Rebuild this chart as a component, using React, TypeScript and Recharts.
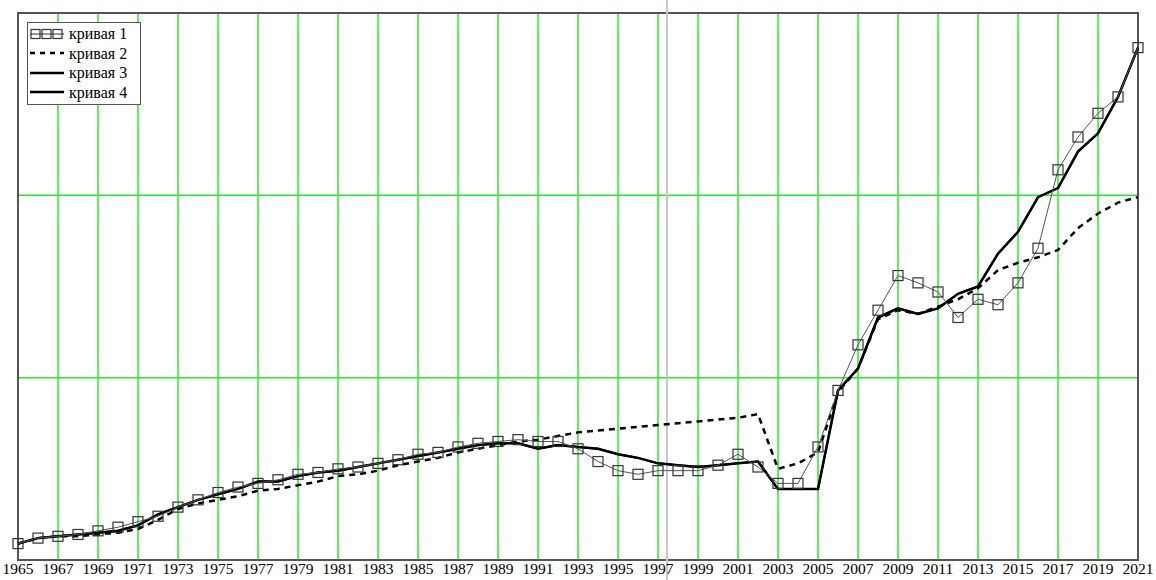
import React from "react";
import { LineChart, Line, XAxis, YAxis, CartesianGrid, ReferenceLine, ReferenceArea } from "recharts";

const years = [
  1965, 1966, 1967, 1968, 1969, 1970, 1971, 1972, 1973, 1974, 1975, 1976, 1977, 1978, 1979,
  1980, 1981, 1982, 1983, 1984, 1985, 1986, 1987, 1988, 1989, 1990, 1991, 1992, 1993, 1994,
  1995, 1996, 1997, 1998, 1999, 2000, 2001, 2002, 2003, 2004, 2005, 2006, 2007, 2008, 2009,
  2010, 2011, 2012, 2013, 2014, 2015, 2016, 2017, 2018, 2019, 2020, 2021,
];

const curve1 = [
  0.09, 0.12, 0.13, 0.14, 0.16, 0.18, 0.21, 0.24, 0.29, 0.33, 0.37, 0.4, 0.42, 0.44, 0.47,
  0.48, 0.5, 0.51, 0.53, 0.55, 0.58, 0.59, 0.62, 0.64, 0.65, 0.66, 0.65, 0.65, 0.61, 0.54,
  0.49, 0.47, 0.49, 0.49, 0.49, 0.52, 0.58, 0.51, 0.42, 0.42, 0.62, 0.93, 1.18, 1.37, 1.56,
  1.52, 1.47, 1.33, 1.43, 1.4, 1.52, 1.71, 2.14, 2.32, 2.45, 2.54, 2.81,
];

const curve2 = [
  0.09, 0.12, 0.13, 0.13, 0.14, 0.15, 0.17, 0.22, 0.28, 0.31, 0.33, 0.35, 0.38, 0.39, 0.41,
  0.43, 0.46, 0.47, 0.49, 0.52, 0.54, 0.56, 0.59, 0.61, 0.63, 0.65, 0.66, 0.68, 0.7, 0.71,
  0.72, 0.73, 0.74, 0.75, 0.76, 0.77, 0.78, 0.8, 0.5, 0.53, 0.59, 0.92, 1.05, 1.32, 1.37,
  1.35, 1.39, 1.43, 1.49, 1.59, 1.63, 1.66, 1.7, 1.82, 1.9, 1.96, 1.99,
];

const curve3 = [
  0.09, 0.12, 0.13, 0.14, 0.15, 0.16, 0.19, 0.25, 0.29, 0.33, 0.36, 0.39, 0.43, 0.43, 0.46,
  0.48, 0.49, 0.51, 0.53, 0.55, 0.57, 0.59, 0.61, 0.63, 0.64, 0.64, 0.61, 0.63, 0.62, 0.61,
  0.58, 0.56, 0.53, 0.52, 0.51, 0.52, 0.53, 0.54, 0.39, 0.39, 0.39, 0.93, 1.05, 1.33, 1.38,
  1.35, 1.38, 1.46, 1.5, 1.68, 1.8, 1.99, 2.04, 2.24, 2.34, 2.54, 2.81,
];

const curve4 = [
  0.09, 0.12, 0.13, 0.14, 0.15, 0.16, 0.19, 0.25, 0.29, 0.33, 0.36, 0.39, 0.43, 0.43, 0.46,
  0.48, 0.49, 0.51, 0.53, 0.55, 0.57, 0.59, 0.61, 0.63, 0.64, 0.64, 0.61, 0.63, 0.62, 0.61,
  0.58, 0.56, 0.53, 0.52, 0.51, 0.52, 0.53, 0.54, 0.39, 0.39, 0.39, 0.93, 1.05, 1.33, 1.38,
  1.35, 1.38, 1.46, 1.5, 1.68, 1.8, 1.99, 2.04, 2.24, 2.34, 2.54, 2.81,
];

const xTicks = [
  1965, 1967, 1969, 1971, 1973, 1975, 1977, 1979, 1981, 1983, 1985, 1987, 1989, 1991, 1993,
  1995, 1997, 1999, 2001, 2003, 2005, 2007, 2009, 2011, 2013, 2015, 2017, 2019, 2021,
];
const yTicks = [0, 1, 2, 3];
const legendNames = ["кривая 1", "кривая 2", "кривая 3", "кривая 4"];
const cursorYear = 1997.45;

const data = years.map((year, i) => ({
  year,
  c1: curve1[i],
  c2: curve2[i],
  c3: curve3[i],
  c4: curve4[i],
}));

const serif = "'Liberation Serif', 'Times New Roman', 'DejaVu Serif', serif";

const Square = (props: any) => {
  const { cx, cy, index } = props;
  if (cx == null || cy == null) return null;
  return (
    <rect key={`sq-${index}`} x={cx - 5} y={cy - 5} width={10} height={10} fill="none" stroke="#333" strokeWidth={1.2} />
  );
};

function LegendBox() {
  const sample = (i: number) => {
    if (i === 0) {
      return (
        <svg width={34} height={12}>
          <line x1={0} y1={6} x2={34} y2={6} stroke="#333" strokeWidth={1} />
          {[1, 12, 23].map((x) => (
            <rect key={x} x={x} y={1.5} width={9} height={9} fill="none" stroke="#333" strokeWidth={1.2} />
          ))}
        </svg>
      );
    }
    return (
      <svg width={34} height={12}>
        <line
          x1={0}
          y1={6}
          x2={34}
          y2={6}
          stroke="#000"
          strokeWidth={2.5}
          strokeDasharray={i === 1 ? "5 5" : undefined}
        />
      </svg>
    );
  };
  return (
    <div
      style={{
        position: "absolute",
        left: 27,
        top: 22,
        border: "1.5px solid #555",
        background: "#fff",
        width: 110,
        padding: "1px 0 2px 2px",
        fontFamily: serif,
        fontSize: 16,
        lineHeight: "19.5px",
        color: "#000",
      }}
    >
      {legendNames.map((name, i) => (
        <div key={name} style={{ display: "flex", alignItems: "center", gap: 5 }}>
          {sample(i)}
          <span>{name}</span>
        </div>
      ))}
    </div>
  );
}

export default function App() {
  return (
    <div style={{ position: "absolute", left: 0, top: 0, width: 1156, height: 580, background: "#fff" }}>
      <LineChart width={1156} height={580} data={data} margin={{ top: 13, right: 18, left: 18, bottom: 0 }}>
        <CartesianGrid stroke="#22ee22" strokeWidth={1.5} verticalValues={xTicks} horizontalValues={yTicks} />
        <XAxis
          dataKey="year"
          type="number"
          domain={[1965, 2021]}
          ticks={xTicks}
          interval={0}
          height={20}
          axisLine={false}
          tickLine={false}
          tickSize={2}
          tickMargin={1}
          tick={{ fill: "#000", fontSize: 15.5, fontFamily: serif }}
        />
        <YAxis hide domain={[0, 3]} ticks={yTicks} />
        <ReferenceArea x1={1965} x2={2021} y1={0} y2={3} fill="none" stroke="#555" strokeWidth={2} />
        <ReferenceLine
          segment={[
            { x: cursorYear, y: -0.11 },
            { x: cursorYear, y: 3.08 },
          ]}
          stroke="#c8c8c8"
          strokeWidth={2}
          ifOverflow="visible"
        />
        <Line type="linear" dataKey="c2" stroke="#000" strokeWidth={2.5} strokeDasharray="6 5" dot={false} isAnimationActive={false} />
        <Line type="linear" dataKey="c4" stroke="#000" strokeWidth={2} dot={false} isAnimationActive={false} />
        <Line type="linear" dataKey="c3" stroke="#000" strokeWidth={2.5} dot={false} isAnimationActive={false} />
        <Line type="linear" dataKey="c1" stroke="#555" strokeWidth={1} dot={<Square />} isAnimationActive={false} />
      </LineChart>
      <LegendBox />
    </div>
  );
}
